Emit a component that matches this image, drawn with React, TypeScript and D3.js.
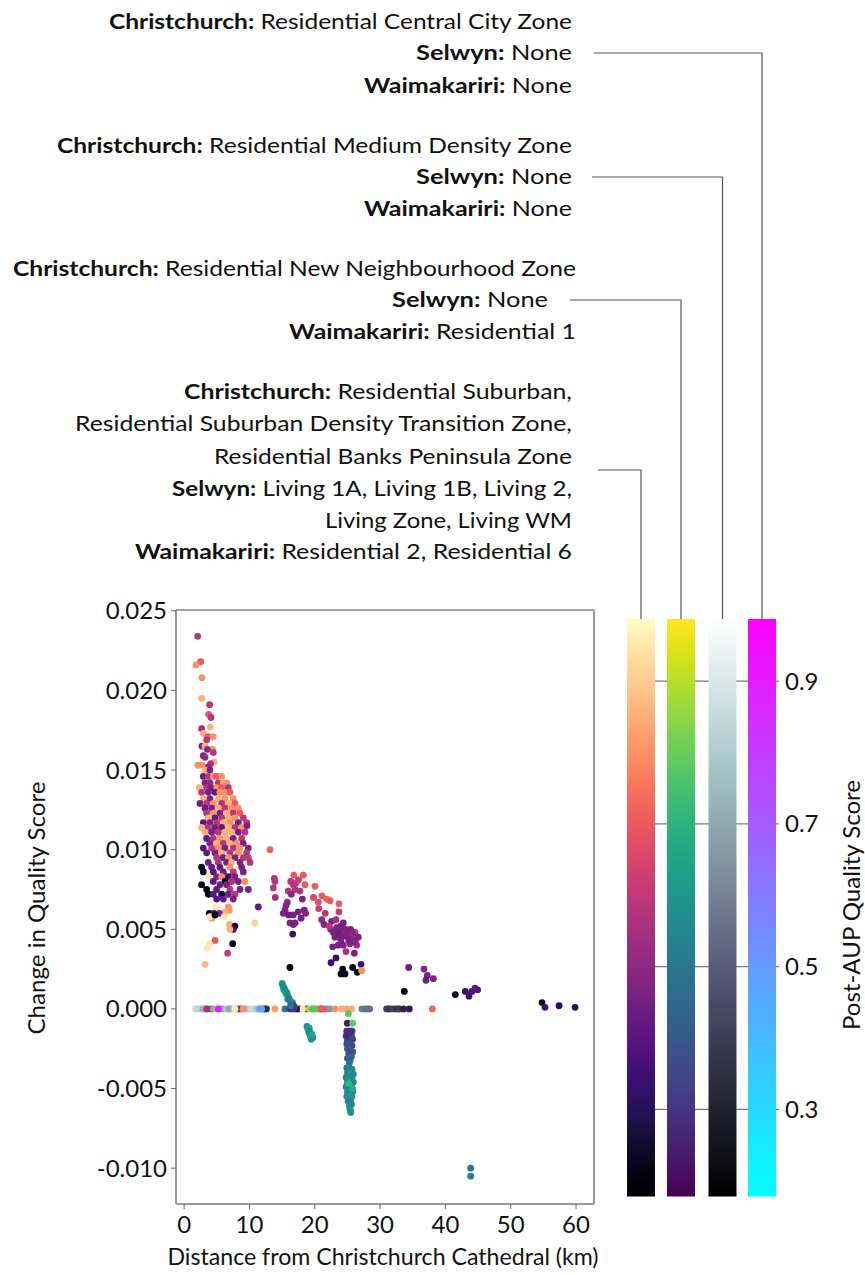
import React from 'react';
import * as d3 from 'd3';

// ---------- DATA ----------
const xTicks = [0, 10, 20, 30, 40, 50, 60];
const yTicks = [-0.01, -0.005, 0, 0.005, 0.01, 0.015, 0.02, 0.025];
const cbTicks = [0.3, 0.5, 0.7, 0.9];
const scoreRange = [0.178, 0.987];

type Pt = [number, number, number]; // [distance km, change in quality, post-AUP score]

// Residential Suburban group (magma)
const suburbanPts: Pt[] = [
  [2.07,.0234,.58],[2.53,.0218,.70],[1.81,.0216,.80],[2.73,.0208,.80],[2.68,.0195,.85],[3.9,.0191,.58],[3.75,.0185,.70],[4.1,.0183,.58],[4.0,.0177,.85],[2.68,.0176,.55],[2.93,.0173,.85],[3.64,.0171,.70],[4.46,.0171,.80],[3.44,.0169,.58],[2.73,.0165,.46],[3.19,.0165,.85],[4.36,.0163,.80],[3.54,.0163,.50],[4.46,.0161,.58],[2.93,.0159,.46],[3.19,.0158,.50],[2.1,.0153,.80],[4.6,.0155,.85],[4.05,.0154,.58],[2.73,.0153,.80],[3.7,.0152,.50],
  [3.19,.0150,.85],[3.95,.0150,.46],
  [2.93,.0146,.44],[3.70,.0146,.58],[4.46,.0146,.80],[4.97,.0146,.70],[5.74,.0146,.80],
  [3.19,.0142,.46],[3.95,.0142,.50],[5.23,.0142,.58],[5.99,.0142,.85],[6.50,.0142,.80],
  [2.32,.0139,.85],[3.44,.0139,.58],[4.21,.0139,.46],[4.97,.0139,.80],[5.74,.0139,.70],[6.76,.0139,.58],
  [2.67,.0136,.58],[3.70,.0136,.46],[4.72,.0136,.42],[5.48,.0136,.80],[6.25,.0136,.80],[7.01,.0136,.70],
  [2.93,.0132,.85],[3.95,.0132,.46],[5.23,.0132,.85],[6.25,.0132,.80],[7.52,.0132,.80],
  [2.42,.0129,.46],[3.44,.0129,.58],[4.46,.0129,.80],[5.74,.0129,.58],[6.76,.0129,.85],[7.78,.0129,.70],
  [3.19,.0126,.44],[4.21,.0126,.46],[5.23,.0126,.85],[6.25,.0126,.58],[7.27,.0126,.80],[8.29,.0126,.80],
  [3.44,.0123,.58],[4.46,.0123,.80],[5.48,.0123,.46],[6.50,.0123,.85],[7.52,.0123,.58],[8.55,.0123,.70],
  [3.70,.0120,.85],[4.72,.0120,.42],[5.74,.0120,.58],[6.76,.0120,.85],[7.78,.0120,.80],[9.06,.0120,.58],
  [2.93,.0117,.40],[3.95,.0117,.46],[4.97,.0117,.58],[5.99,.0117,.85],[7.01,.0117,.80],[8.29,.0117,.46],[9.57,.0117,.58],
  [2.67,.0114,.85],[3.70,.0114,.58],[4.72,.0114,.46],[5.74,.0114,.42],[6.76,.0114,.85],[7.78,.0114,.58],[8.80,.0114,.80],
  [3.19,.0111,.85],[4.21,.0111,.46],[5.23,.0111,.58],[6.25,.0111,.85],[7.27,.0111,.85],[8.29,.0111,.46],[9.31,.0111,.58],
  [3.44,.0107,.42],[4.46,.0107,.58],[5.48,.0107,.80],[6.50,.0107,.85],[7.52,.0107,.46],[8.80,.0107,.58],
  [3.95,.0104,.46],[4.97,.0104,.85],[5.99,.0104,.58],[7.01,.0104,.85],[8.03,.0104,.80],[9.06,.0104,.46],
  [2.93,.0101,.40],[4.21,.0101,.58],[5.23,.0101,.80],[6.25,.0101,.46],[7.52,.0101,.58],[8.55,.0101,.80],[9.82,.0101,.46],
  [3.44,.0098,.42],[4.72,.0098,.46],[5.74,.0098,.85],[7.01,.0098,.58],[8.29,.0098,.80],[9.57,.0098,.58],
  [4.97,.0095,.58],[5.99,.0095,.44],[6.76,.0095,.80],[7.78,.0095,.46],[9.06,.0095,.58],[9.82,.0095,.60],
  [3.70,.0092,.44],[5.23,.0092,.58],[6.50,.0092,.46],[7.27,.0092,.85],[8.55,.0092,.46],[10.08,.0092,.58],
  [2.67,.0089,.22],[4.21,.0089,.44],[5.48,.0089,.42],[7.01,.0089,.80],[8.80,.0089,.46],
  [2.93,.0086,.24],[4.46,.0086,.40],[5.99,.0086,.44],[7.52,.0086,.58],[9.06,.0086,.46],
  [3.70,.0083,.95],[4.97,.0083,.46],[5.74,.0083,.80],[6.76,.0083,.34],[7.78,.0083,.46],
  [4.46,.0080,.42],[6.25,.0080,.22],[7.27,.0080,.58],[8.29,.0080,.46],[9.31,.0080,.80],
  [2.67,.0078,.22],[5.48,.0078,.44],[6.50,.0078,.46],
  [3.44,.0075,.22],[4.97,.0075,.42],[7.01,.0075,.58],[8.55,.0075,.46],[9.82,.0075,.46],
  [3.70,.0072,.22],[4.46,.0072,.40],[5.74,.0072,.24],[6.76,.0072,.44],[7.78,.0072,.58],
  [4.97,.0069,.40],[5.99,.0069,.42],[7.52,.0069,.46],
  [4.87,.0064,.95],[6.76,.0064,.80],[11.35,.0064,.42],
  [13.14,.0100,.72],[9.62,.0115,.46],
  [6.91,.0062,.80],[6.25,.0061,.85],[3.85,.0060,.22],[4.56,.0060,.34],[5.38,.0060,.46],[4.26,.0057,.80],[3.95,.0058,.95],[4.72,.0059,.22],[6.14,.0058,.95],[10.84,.0054,.91],[6.91,.0053,.85],[7.78,.0052,.22],[7.52,.0050,.34],[7.01,.0050,.85],[4.72,.0043,.70],[3.85,.0041,.95],[3.54,.0038,.95],[7.43,.0041,.20],[6.66,.0035,.60],[3.19,.0028,.86],
  [13.8,.0082,.58],[13.9,.0080,.58],[13.65,.0076,.58],[13.95,.0070,.55],
  [16.81,.0084,.70],[18.24,.0084,.70],[16.31,.0080,.58],[16.71,.0078,.58],[17.12,.0079,.60],[18.5,.0078,.70],[15.94,.0074,.58],[17.73,.0074,.58],[16.97,.0075,.58],[20.03,.0077,.70],[21.1,.0071,.70],[21.82,.0069,.72],[22.33,.0068,.70],[20.54,.0067,.68],[23.7,.0066,.70],[18.09,.0069,.46],[15.79,.0067,.50],[15.44,.0062,.46],[15.18,.0060,.46],[17.47,.0061,.46],[18.39,.0062,.46],[18.6,.0060,.48],[16.71,.0059,.46],[23.7,.0061,.60],[21.06,.0056,.50],[16.2,.0054,.46],[16.71,.0053,.44],[16.97,.0054,.46],[16.62,.0047,.34],[21.41,.0053,.48],[22.58,.0055,.46],[23.25,.0056,.55],[24.37,.0054,.46],[23.35,.0051,.46],[22.43,.0050,.48],[22.84,.0048,.46],[23.86,.0049,.46],[24.98,.0048,.46],[26.16,.0048,.58],[26.66,.0045,.46],[25.13,.0045,.48],[24.12,.0045,.46],[23.09,.0045,.46],[25.9,.0043,.46],[25.39,.0041,.50],[26.42,.0040,.55],[22.74,.0039,.46],[23.6,.0040,.46],[24.37,.0040,.48],[24.78,.0036,.55],[26.05,.0035,.46],[23.25,.0032,.34],[22.48,.0029,.34],[27.08,.0028,.34],[24.27,.0025,.22],[25.8,.0026,.22],[24.01,.0022,.22],[24.63,.0022,.22],[26.5,.0023,.22],[27.18,.0024,.80],[16.2,.0026,.20],
  [24.0,.0052,.46],[24.7,.0050,.48],[25.5,.0050,.46],[25.8,.0047,.50],[24.5,.0046,.46],[23.5,.0047,.44],[25.2,.0043,.46],[26.2,.0042,.48],[24.0,.0043,.46],[22.2,.0052,.58],[21.6,.0060,.58],[20.6,.0063,.62],[19.8,.0070,.65],[17.5,.0081,.62],[16.4,.0072,.50],[15.6,.0065,.48],[17.9,.0057,.46],[16.0,.0059,.44],
  [34.38,.0026,.44],[36.72,.0025,.48],[37.23,.0021,.46],[37.03,.0018,.44],[38.15,.0019,.46],[33.71,.0011,.20],[41.52,.0009,.22],[43.05,.0011,.34],[43.61,.0008,.34],[44.07,.0011,.36],[44.53,.0013,.42],[44.94,.0012,.40],[54.79,.0004,.22],[55.25,.0001,.36],[57.4,.0002,.30],[59.85,.0001,.30],
  [3.44,0,.55],[7.78,0,.95],[9.06,0,.80],[13.9,0,.82],[18.14,0,.95],[20.95,0,.24],[21.3,0,.70],[20.5,0,.72],[23.1,0,.80],[24.1,0,.84],[24.9,0,.83],[25.65,0,.84],[34.47,0,.34],[38.0,0,.72],[17.2,0,.30],
];

// Residential New Neighbourhood group (viridis)
const newNeighbourhoodPts: Pt[] = [
  [15.43,0,.50],[16.2,0,.30],[16.7,0,.28],[19.16,0,.92],[19.52,0,.80],[19.8,0,.76],[20.0,0,.78],
  [15.0,.0016,.58],[15.1,.0015,.60],[15.15,.0014,.56],[15.3,.0013,.58],[15.25,.0012,.62],[15.45,.0012,.56],[15.5,.0011,.58],[15.6,.0010,.60],[15.75,.0010,.56],[15.7,.0009,.62],[15.9,.0008,.58],[16.0,.0007,.56],[15.85,.0006,.60],[16.1,.0006,.50],[16.25,.0005,.54],[16.35,.0004,.46],[16.5,.0003,.42],[16.6,.0004,.56],[16.75,.0002,.38],[16.9,.0001,.32],[16.6,.0001,.30],[16.3,.0002,.48],
  [18.8,-.0011,.58],[18.9,-.0012,.60],[19.05,-.0013,.56],[19.15,-.0012,.62],[19.2,-.0014,.58],[19.3,-.0015,.60],[19.4,-.0016,.56],[19.5,-.0017,.58],[19.6,-.0018,.60],[19.7,-.0018,.56],[19.45,-.0019,.58],[19.3,-.0017,.62],[19.1,-.0015,.56],[19.6,-.0016,.66],
  [25.13,-.0003,.78],[24.98,-.0009,.22],[25.8,-.0009,.78],
  [24.9,-.0014,.28],[25.1,-.0014,.30],[25.3,-.0014,.28],[25.5,-.0014,.30],[25.7,-.0014,.28],[24.8,-.0017,.30],[25.2,-.0017,.26],[25.6,-.0017,.30],[25.0,-.0020,.32],[25.4,-.0020,.30],[25.8,-.0019,.34],
  [24.9,-.0022,.36],[25.3,-.0022,.38],[25.7,-.0023,.36],[25.0,-.0025,.40],[25.5,-.0026,.38],[25.8,-.0027,.40],[25.2,-.0028,.38],[25.6,-.0030,.42],[25.0,-.0031,.40],[25.4,-.0032,.44],[25.3,-.0034,.48],
  [24.9,-.0037,.52],[25.3,-.0037,.56],[25.7,-.0038,.54],
  [25.0,-.0040,.55],[25.5,-.0040,.60],[25.9,-.0041,.54],
  [24.8,-.0043,.52],[25.2,-.0043,.58],[25.7,-.0043,.56],
  [25.0,-.0046,.54],[25.4,-.0046,.64],[25.9,-.0046,.55],
  [24.8,-.0049,.56],[25.2,-.0049,.52],[25.6,-.0049,.58],
  [25.0,-.0052,.60],[25.4,-.0052,.54],[25.8,-.0052,.56],
  [24.9,-.0055,.55],[25.3,-.0055,.58],[25.7,-.0055,.60],
  [25.1,-.0058,.56],[25.5,-.0058,.54],
  [25.3,-.0061,.58],[25.6,-.0060,.56],
  [25.4,-.0063,.60],[25.5,-.0065,.58],
  [25.2,-.0047,.70],[25.8,-.0050,.68],
  [43.87,-.0100,.50],[43.87,-.0105,.50],
];

// Residential Medium Density group (bone)
const mediumDensityPts: Pt[] = [
  [1.65,0,.90],[1.9,0,.86],[2.16,0,.84],[2.6,0,.80],[2.93,0,.72],[3.2,0,.76],[3.7,0,.72],[4.21,0,.46],[4.46,0,.70],[5.0,0,.76],[5.74,0,.70],[6.0,0,.72],[6.5,0,.80],[6.8,0,.72],[7.01,0,.70],[7.5,0,.76],[8.0,0,.68],[8.29,0,.70],[8.55,0,.45],[9.0,0,.66],[9.57,0,.72],[9.8,0,.80],[10.33,0,.86],[10.8,0,.85],[11.1,0,.82],[11.4,0,.74],[12.1,0,.40],[12.4,0,.38],[12.6,0,.35],[17.73,0,.40],[18.75,0,.36],[21.8,0,.62],[22.3,0,.66],[27.2,0,.60],[27.7,0,.58],[27.95,0,.55],[28.4,0,.55],[31.0,0,.40],[31.3,0,.42],[31.5,0,.38],[32.0,0,.42],[32.5,0,.36],[32.8,0,.38],[33.0,0,.40],[33.6,0,.32],
];

// Residential Central City group (cool)
const centralCityPts: Pt[] = [
  [5.23,0,.90],[11.6,0,.50],[11.87,0,.46],
];

// Zone description texts: [bold, regular]
const centralCityText: [string, string][] = [
  ['Christchurch:', ' Residential Central City Zone'],
  ['Selwyn:', ' None'],
  ['Waimakariri:', ' None'],
];
const mediumDensityText: [string, string][] = [
  ['Christchurch:', ' Residential Medium Density Zone'],
  ['Selwyn:', ' None'],
  ['Waimakariri:', ' None'],
];
const newNeighbourhoodText: [string, string][] = [
  ['Christchurch:', ' Residential New Neighbourhood Zone'],
  ['Selwyn:', ' None'],
  ['Waimakariri:', ' Residential 1'],
];
const suburbanText: [string, string][] = [
  ['Christchurch:', ' Residential Suburban,'],
  ['', 'Residential Suburban Density Transition Zone,'],
  ['', 'Residential Banks Peninsula Zone'],
  ['Selwyn:', ' Living 1A, Living 1B, Living 2,'],
  ['', 'Living Zone, Living WM'],
  ['Waimakariri:', ' Residential 2, Residential 6'],
];

// ---------- colour maps ----------
const boneR = d3.scaleLinear<number>().domain([0, 0.746032, 1]).range([0, 0.652778, 1]);
const boneG = d3.scaleLinear<number>().domain([0, 0.365079, 0.746032, 1]).range([0, 0.319444, 0.777778, 1]);
const boneB = d3.scaleLinear<number>().domain([0, 0.365079, 1]).range([0, 0.444444, 1]);
const bone = (t: number) => d3.rgb(255 * boneR(t), 255 * boneG(t), 255 * boneB(t)).formatHex();
const cool = (t: number) => d3.rgb(255 * t, 255 * (1 - t), 255).formatHex();

const FONT = 'Lato, "Open Sans", sans-serif';

export default function App() {
  const x = d3.scaleLinear().domain([-1.25, 62.75]).range([176, 594]);
  const y = d3.scaleLinear().domain([-0.01225, 0.02505]).range([1204, 610]);
  const cb = d3.scaleLinear().domain(scoreRange).range([1196.5, 619]);
  const tOf = d3.scaleLinear().domain(scoreRange).range([0, 1]).clamp(true);

  // bars left to right: magma, viridis, bone, cool
  const bars = [
    { id: 'magma', fn: d3.interpolateMagma, x0: 627 },
    { id: 'viridis', fn: d3.interpolateViridis, x0: 667 },
    { id: 'bone', fn: bone, x0: 708.5 },
    { id: 'cool', fn: cool, x0: 748 },
  ];
  const barW = 28;

  const series = [
    { pts: mediumDensityPts, fn: bone },
    { pts: centralCityPts, fn: cool },
    { pts: suburbanPts, fn: d3.interpolateMagma },
    { pts: newNeighbourhoodPts, fn: d3.interpolateViridis },
  ];

  const groups = [
    { lines: centralCityText, ys: [22, 53, 86], ends: [572, 572, 572], widths: [463, 156, 208], bar: 3, hy: 53, hx: 594 },
    { lines: mediumDensityText, ys: [146, 177, 209], ends: [572, 572, 572], widths: [515, 156, 208], bar: 2, hy: 177, hx: 592 },
    { lines: newNeighbourhoodText, ys: [269, 300, 332], ends: [576, 548, 576], widths: [563, 156, 287], bar: 1, hy: 300, hx: 570 },
    { lines: suburbanText, ys: [392, 424, 457, 489, 521, 552], ends: [572, 572, 572, 572, 572, 572], widths: [388, 497, 358, 400, 247, 437], bar: 0, hy: 470, hx: 598 },
  ];

  const stops = d3.range(0, 1.0001, 0.025);

  return (
    <svg width={865} height={1275} style={{ position: 'absolute', left: 0, top: 0, background: '#fff' }} fontFamily={FONT}>
      <defs>
        {bars.map((b) => (
          <linearGradient key={b.id} id={'g-' + b.id} x1="0" y1="1" x2="0" y2="0">
            {stops.map((s) => (
              <stop key={s} offset={s} stopColor={b.fn(s)} />
            ))}
          </linearGradient>
        ))}
      </defs>

      {/* zone texts */}
      {groups.map((g, gi) => (
        <g key={gi}>
          {g.lines.map((ln, li) => (
            <text key={li} x={g.ends[li]} y={g.ys[li] + 7} textAnchor="end" fontSize={21} fill="#111"
              textLength={g.widths[li]} lengthAdjust="spacingAndGlyphs" style={{ whiteSpace: 'pre' }}>
              {ln[0] ? <tspan fontWeight="bold">{ln[0]}</tspan> : null}
              <tspan>{ln[1]}</tspan>
            </text>
          ))}
          <polyline
            points={`${g.hx},${g.hy} ${bars[g.bar].x0 + barW / 2},${g.hy} ${bars[g.bar].x0 + barW / 2},${cb.range()[1]}`}
            fill="none" stroke="#555" strokeWidth={1.2}
          />
        </g>
      ))}

      {/* colour bars */}
      {cbTicks.map((t) => (
        <line key={t} x1={655} x2={779} y1={cb(t)} y2={cb(t)} stroke="#777" strokeWidth={1.3} />
      ))}
      {bars.map((b) => (
        <rect key={b.id} x={b.x0} y={cb.range()[1]} width={barW} height={cb.range()[0] - cb.range()[1]} fill={`url(#g-${b.id})`} />
      ))}
      {cbTicks.map((t) => (
        <text key={t} x={785} y={cb(t) + 8.5} fontSize={24} fill="#111">{d3.format('.1f')(t)}</text>
      ))}
      <text transform="translate(860,905) rotate(-90)" textAnchor="middle" fontSize={22.5} fill="#111"
        textLength={250} lengthAdjust="spacingAndGlyphs">Post-AUP Quality Score</text>

      {/* scatter plot */}
      <g>
        {series.map((s, si) => (
          <g key={si}>
            {s.pts.map((p, i) => (
              <circle key={i} cx={x(p[0])} cy={y(p[1])} r={3.4} fill={s.fn(tOf(p[2]))} />
            ))}
          </g>
        ))}
      </g>

      {/* spines */}
      <line x1={176} x2={594} y1={610} y2={610} stroke="#444" strokeWidth={1.2} />
      <line x1={176} x2={176} y1={610} y2={1204} stroke="#999" strokeWidth={2} />
      <line x1={594} x2={594} y1={610} y2={1204} stroke="#999" strokeWidth={2} />
      <line x1={176} x2={594} y1={1204} y2={1204} stroke="#999" strokeWidth={2} />

      {/* y axis */}
      {yTicks.map((t) => (
        <g key={t}>
          <line x1={171} x2={176} y1={y(t)} y2={y(t)} stroke="#666" strokeWidth={1} />
          <text x={167} y={y(t) + 8.5} textAnchor="end" fontSize={24} fill="#111">{d3.format('.3f')(t).replace('−', '-')}</text>
        </g>
      ))}
      {/* x axis */}
      {xTicks.map((t) => (
        <g key={t}>
          <line x1={x(t)} x2={x(t)} y1={1204} y2={1209} stroke="#666" strokeWidth={1} />
          <text x={x(t)} y={1233} textAnchor="middle" fontSize={24} fill="#111">{t}</text>
        </g>
      ))}
      <text transform="translate(45,908) rotate(-90)" textAnchor="middle" fontSize={22.5} fill="#111"
        textLength={253} lengthAdjust="spacingAndGlyphs">Change in Quality Score</text>
      <text x={383} y={1265} textAnchor="middle" fontSize={22.5} fill="#111"
        textLength={431} lengthAdjust="spacingAndGlyphs">Distance from Christchurch Cathedral (km)</text>
    </svg>
  );
}
